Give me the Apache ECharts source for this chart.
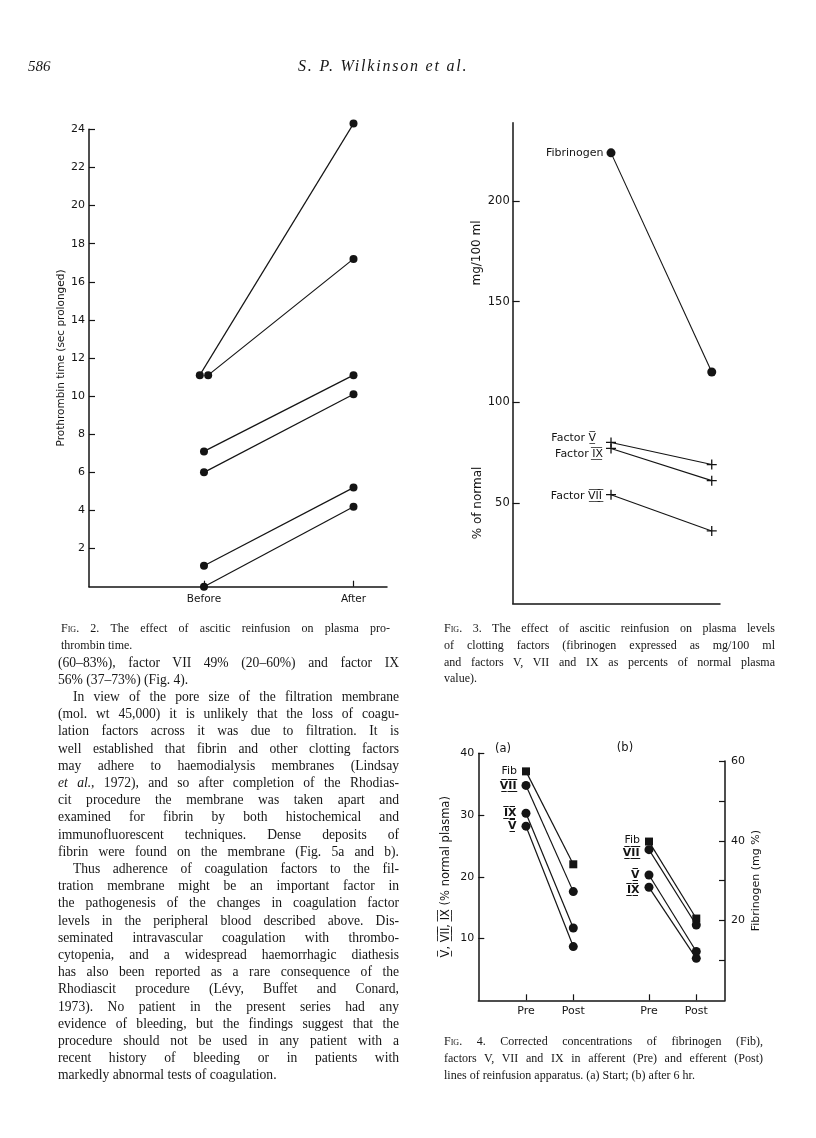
<!DOCTYPE html>
<html><head><meta charset="utf-8">
<script src="https://cdn.jsdelivr.net/npm/echarts@6/dist/echarts.min.js"></script>
<style>
html,body{margin:0;padding:0;background:#fff;}
#page{position:relative;width:816px;height:1138px;overflow:hidden;background:#fff;}
#chart{position:absolute;left:0;top:0;width:816px;height:1138px;}
#text{position:absolute;left:0;top:0;width:816px;height:1138px;pointer-events:none;}
.ln{position:absolute;font-family:'Liberation Serif','Times New Roman',serif;color:#161616;text-align:justify;text-align-last:justify;}
.ln.l{text-align:left;text-align-last:left;}
.body{font-size:13.6px;line-height:17px;height:17px;}
.cap{font-size:12px;line-height:14px;height:14px;}
.hdr{font-size:15px;line-height:18px;height:18px;font-style:italic;text-align:left;text-align-last:left;}
.sc{font-variant:small-caps;}
</style></head>
<body><div id="page"><div id="chart"></div><div id="text"></div></div>
<script>
// ---------------- DATA ----------------
// Fig. 2: prothrombin time (sec prolonged), before / after reinfusion
const fig2Categories = ['Before', 'After'];
const fig2Before = [11.1, 11.1, 7.1, 6.0, 1.1, 0.0];
const fig2After  = [24.3, 17.2, 11.1, 10.1, 5.2, 4.2];
const fig2YTicks = [2, 4, 6, 8, 10, 12, 14, 16, 18, 20, 22, 24];

// Fig. 3: clotting factors (fibrinogen mg/100 ml, factors % of normal)
const fig3Names = ['Fibrinogen', 'Factor V\u0332\u0305', 'Factor I\u0332\u0305X\u0332\u0305', 'Factor V\u0332\u0305I\u0332\u0305I\u0332\u0305'];
const fig3Pre  = [224, 80, 77, 54];
const fig3Post = [115, 69, 61, 36];
const fig3YTicks = [50, 100, 150, 200];

// Fig. 4: corrected concentrations, (a) start, (b) after 6 hr
const fig4Panels = ['(a)', '(b)'];
const fig4Times = ['Pre', 'Post'];
const fig4Factors = ['V\u0332\u0305I\u0332\u0305I\u0332\u0305', 'I\u0332\u0305X\u0332\u0305', 'V\u0332\u0305'];
const fig4aFactorPre  = [34.8, 30.3, 28.2];
const fig4aFactorPost = [17.6, 11.7, 8.7];
const fig4bFactorPre  = [24.4, 18.3, 20.3];
const fig4bFactorPost = [12.2, 6.8, 7.9];
const fig4FibName = 'Fib';
const fig4FibPre  = [57.4, 39.8];
const fig4FibPost = [34.1, 20.5];
const fig4LeftTicks = [10, 20, 30, 40];
const fig4RightTicks = [10, 20, 30, 40, 50, 60];
const fig4RightLabels = [20, 40, 60];

// ---------------- STYLE ----------------
const FONT = "'DejaVu Sans', sans-serif";
const INK = '#141414';
const PLUS = 'path://M4.35,0H5.65V4.35H10V5.65H5.65V10H4.35V5.65H0V4.35H4.35Z';
const PANEL_GAP = 2.6;
// label nudges (styling only)
const fig3LabelOffset = [[0, 0], [0, -4], [0, 6], [0, 1]];
const fig3LabelDist = [3, 10, 3, 4];
const fig4LabelOffset = [[[0, 1], [0, 0], [0, 0]], [[0, 4], [0, 3], [0, 0]]];
const fig4FibOffset = [[0, 0], [0, -1]];

function lineAxis(w) { return { show: true, onZero: false, lineStyle: { color: INK, width: w || 1.4 } }; }
function tick(vals, len) { return { show: true, inside: true, length: len || 6, customValues: vals, lineStyle: { color: INK, width: 1.2 } }; }
function lab(vals, extra) { return Object.assign({ show: true, customValues: vals, color: INK, fontFamily: FONT, fontSize: 11 }, extra || {}); }
const noSplit = { show: false };

// ---------------- FIG 2 SERIES ----------------
const series = [];
fig2Before.forEach((b, i) => {
  const dups = [];
  fig2Before.forEach((v, j) => { if (v === b) dups.push(j); });
  const k = dups.indexOf(i);
  const jit = dups.length > 1 ? (k - (dups.length - 1) / 2) * 0.056 : 0;
  series.push({
    type: 'line', xAxisIndex: 0, yAxisIndex: 0, clip: false,
    data: [[1 + jit, b], [2, fig2After[i]]],
    symbol: 'circle', symbolSize: 8, showSymbol: true,
    itemStyle: { color: INK }, lineStyle: { color: INK, width: 1.2 },
    silent: true
  });
});

// ---------------- FIG 3 SERIES ----------------
fig3Names.forEach((name, i) => {
  const isFib = i === 0;
  series.push({
    type: 'line', xAxisIndex: 1, yAxisIndex: 1, clip: false,
    data: [
      { value: [1, fig3Pre[i]], label: { show: true, position: 'left', distance: fig3LabelDist[i], offset: fig3LabelOffset[i],
        formatter: name, color: INK, fontFamily: FONT, fontSize: 11 } },
      { value: [2, fig3Post[i]] }
    ],
    symbol: isFib ? 'circle' : PLUS, symbolSize: isFib ? 9 : 10,
    itemStyle: { color: INK }, lineStyle: { color: INK, width: 1.1 },
    silent: true
  });
});

// ---------------- FIG 4 SERIES ----------------
function fig4Factor(pre, post, panel) {
  fig4Factors.forEach((name, i) => {
    const x0 = panel * PANEL_GAP;
    series.push({
      type: 'line', xAxisIndex: 2, yAxisIndex: 2, clip: false,
      data: [
        { value: [x0, pre[i]], label: { show: true, position: 'left', distance: 5, offset: fig4LabelOffset[panel][i],
          formatter: name, color: INK, fontFamily: FONT, fontSize: 11, fontWeight: 'bold' } },
        { value: [x0 + 1, post[i]] }
      ],
      symbol: 'circle', symbolSize: 9,
      itemStyle: { color: INK }, lineStyle: { color: INK, width: 1.2 },
      silent: true
    });
  });
}
fig4Factor(fig4aFactorPre, fig4aFactorPost, 0);
fig4Factor(fig4bFactorPre, fig4bFactorPost, 1);
fig4Panels.forEach((p, k) => {
  const x0 = k * PANEL_GAP;
  series.push({
    type: 'line', xAxisIndex: 3, yAxisIndex: 3, clip: false,
    data: [
      { value: [x0, fig4FibPre[k]], label: { show: true, position: 'left', distance: 5, offset: fig4FibOffset[k], formatter: fig4FibName,
        color: INK, fontFamily: FONT, fontSize: 11 } },
      { value: [x0 + 1, fig4FibPost[k]] }
    ],
    symbol: 'rect', symbolSize: 8,
    itemStyle: { color: INK }, lineStyle: { color: INK, width: 1.2 },
    silent: true
  });
});

const option = {
  animation: false,
  backgroundColor: 'transparent',
  grid: [
    { left: 89, top: 129.3, width: 298, height: 457.4, containLabel: false, outerBoundsMode: 'none' },
    { left: 512.7, top: 122.7, width: 207.3, height: 480.6, containLabel: false, outerBoundsMode: 'none' },
    { left: 478.3, top: 753.3, width: 246.7, height: 247, containLabel: false, outerBoundsMode: 'none' },
    { left: 478.3, top: 761, width: 246.7, height: 239.3, containLabel: false, outerBoundsMode: 'none' }
  ],
  xAxis: [
    { type: 'value', gridIndex: 0, min: 0.231, max: 2.224,
      axisLine: lineAxis(1.5), axisTick: tick([1, 2], 6),
      axisLabel: lab([1, 2], { margin: 7, fontSize: 10.5, formatter: v => fig2Categories[Math.round(v) - 1] || '' }),
      splitLine: noSplit },
    { type: 'value', gridIndex: 1, min: 0.024, max: 2.082,
      axisLine: lineAxis(1.5), axisTick: { show: false }, axisLabel: { show: false }, splitLine: noSplit },
    { type: 'value', gridIndex: 2, min: -1.008, max: 4.207,
      axisLine: lineAxis(1.5), axisTick: tick([0, 1, PANEL_GAP, PANEL_GAP + 1], 6),
      axisLabel: lab([0, 1, PANEL_GAP, PANEL_GAP + 1], { margin: 5, formatter: v => fig4Times[Math.round(v % PANEL_GAP)] || '' }),
      splitLine: noSplit },
    { type: 'value', gridIndex: 3, min: -1.008, max: 4.207, show: false, axisLine: { onZero: false }, splitLine: noSplit }
  ],
  yAxis: [
    { type: 'value', gridIndex: 0, min: 0, max: 24,
      axisLine: lineAxis(1.5), axisTick: tick(fig2YTicks, 6),
      axisLabel: lab(fig2YTicks, { margin: 4 }), splitLine: noSplit,
      name: 'Prothrombin time (sec prolonged)', nameLocation: 'middle', nameRotate: 90, nameGap: 19,
      nameTextStyle: { color: INK, fontFamily: FONT, fontSize: 10.5 } },
    { type: 'value', gridIndex: 1, min: 0, max: 239,
      axisLine: lineAxis(1.5), axisTick: tick(fig3YTicks, 7),
      axisLabel: lab(fig3YTicks, { margin: 3, fontSize: 11.5 }), splitLine: noSplit },
    { type: 'value', gridIndex: 2, min: 0, max: 40, position: 'left',
      axisLine: lineAxis(1.5), axisTick: tick(fig4LeftTicks, 6),
      axisLabel: lab(fig4LeftTicks, { margin: 4 }), splitLine: noSplit,
      name: 'V\u0332\u0305, V\u0332\u0305I\u0332\u0305I\u0332\u0305, I\u0332\u0305X\u0332\u0305 (% normal plasma)', nameLocation: 'middle', nameRotate: 90, nameGap: 26,
      nameTextStyle: { color: INK, fontFamily: FONT, fontSize: 11.5 } },
    { type: 'value', gridIndex: 3, min: 0, max: 60, position: 'right',
      axisLine: lineAxis(1.5), axisTick: tick(fig4RightTicks, 6),
      axisLabel: lab(fig4RightLabels, { margin: 6 }), splitLine: noSplit,
      name: 'Fibrinogen (mg %)', nameLocation: 'middle', nameRotate: 90, nameGap: 26,
      nameTextStyle: { color: INK, fontFamily: FONT, fontSize: 11 } }
  ],
  graphic: [
    { type: 'text', x: 477, y: 253, rotation: Math.PI / 2,
      style: { text: 'mg/100 ml', fill: INK, font: "12px 'DejaVu Sans', sans-serif", align: 'center', verticalAlign: 'middle' } },
    { type: 'text', x: 478, y: 503, rotation: Math.PI / 2,
      style: { text: '% of normal', fill: INK, font: "12px 'DejaVu Sans', sans-serif", align: 'center', verticalAlign: 'middle' } },
    { type: 'text', x: 503, y: 749,
      style: { text: fig4Panels[0], fill: INK, font: "11.5px 'DejaVu Sans', sans-serif", align: 'center', verticalAlign: 'middle' } },
    { type: 'text', x: 625, y: 748,
      style: { text: fig4Panels[1], fill: INK, font: "11.5px 'DejaVu Sans', sans-serif", align: 'center', verticalAlign: 'middle' } }
  ],
  series: series
};

const chart = echarts.init(document.getElementById('chart'), null, { renderer: 'canvas' });
chart.setOption(option);

// ---------------- PAGE TEXT ----------------
const textBox = document.getElementById('text');
function addLine(html, cls, left, width, centerY, lh, extraStyle) {
  const d = document.createElement('div');
  d.className = 'ln ' + cls;
  d.style.left = left + 'px';
  d.style.width = width + 'px';
  d.style.top = (centerY - lh / 2) + 'px';
  if (extraStyle) d.style.cssText += extraStyle;
  d.innerHTML = html;
  textBox.appendChild(d);
}
addLine('586', 'hdr', 28, 40, 66, 18);
addLine('S. P. Wilkinson et al.', 'hdr', 298, 240, 66, 18, 'font-size:16px;letter-spacing:1.8px;');

const FIG = 'F<span class="sc">ig</span>.';
const cap2 = [[FIG + ' 2. The effect of ascitic reinfusion on plasma pro-', ''], ['thrombin time.', 'l']];
cap2.forEach((c, i) => addLine(c[0], 'cap ' + c[1], 61, 329, 628 + i * 16.8, 14));
const cap3 = [
  [FIG + ' 3. The effect of ascitic reinfusion on plasma levels', ''],
  ['of clotting factors (fibrinogen expressed as mg/100 ml', ''],
  ['and factors V, VII and IX as percents of normal plasma', ''],
  ['value).', 'l']];
cap3.forEach((c, i) => addLine(c[0], 'cap ' + c[1], 444, 331, 628 + i * 16.8, 14));
const cap4 = [
  [FIG + ' 4. Corrected concentrations of fibrinogen (Fib),', ''],
  ['factors V, VII and IX in afferent (Pre) and efferent (Post)', ''],
  ['lines of reinfusion apparatus. (a) Start; (b) after 6 hr.', 'l']];
cap4.forEach((c, i) => addLine(c[0], 'cap ' + c[1], 444, 319, 1041 + i * 17, 14));

const bodyLines = [
  ['(60–83%), factor VII 49% (20–60%) and factor IX', ''],
  ['56% (37–73%) (Fig. 4).', 'l'],
  ['In view of the pore size of the filtration membrane', 'i'],
  ['(mol. wt 45,000) it is unlikely that the loss of coagu-', ''],
  ['lation factors across it was due to filtration. It is', ''],
  ['well established that fibrin and other clotting factors', ''],
  ['may adhere to haemodialysis membranes (Lindsay', ''],
  ['<i>et al.</i>, 1972), and so after completion of the Rhodias-', ''],
  ['cit procedure the membrane was taken apart and', ''],
  ['examined for fibrin by both histochemical and', ''],
  ['immunofluorescent techniques. Dense deposits of', ''],
  ['fibrin were found on the membrane (Fig. 5a and b).', ''],
  ['Thus adherence of coagulation factors to the fil-', 'i'],
  ['tration membrane might be an important factor in', ''],
  ['the pathogenesis of the changes in coagulation factor', ''],
  ['levels in the peripheral blood described above. Dis-', ''],
  ['seminated intravascular coagulation with thrombo-', ''],
  ['cytopenia, and a widespread haemorrhagic diathesis', ''],
  ['has also been reported as a rare consequence of the', ''],
  ['Rhodiascit procedure (Lévy, Buffet and Conard,', ''],
  ['1973). No patient in the present series had any', ''],
  ['evidence of bleeding, but the findings suggest that the', ''],
  ['procedure should not be used in any patient with a', ''],
  ['recent history of bleeding or in patients with', ''],
  ['markedly abnormal tests of coagulation.', 'l']
];
bodyLines.forEach((b, i) => {
  const indent = b[1] === 'i';
  addLine(b[0], 'body ' + (b[1] === 'l' ? 'l' : ''), indent ? 73 : 58, indent ? 326 : 341,
    662 + i * 17.2, 17);
});
</script>
</body></html>
